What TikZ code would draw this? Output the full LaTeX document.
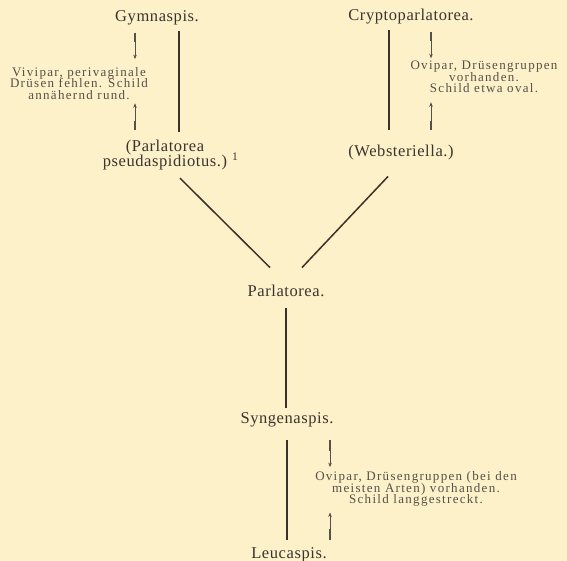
\documentclass[tikz,border=0pt]{standalone}
\usepackage{fontspec}
\setmainfont{Liberation Serif}
\usetikzlibrary{arrows.meta}
\definecolor{paperCream}{HTML}{FCF1C8}
\definecolor{inkDark}{HTML}{3A322A}
\definecolor{inkName}{HTML}{3A342E}
\definecolor{inkNote}{HTML}{55504A}
\newcommand\taxonfont{\fontsize{16.5}{15}\selectfont\lineskiplimit=-20pt%
  \addfontfeatures{LetterSpace=3.5}}
\newcommand\notefont{\fontsize{13}{11.6}\selectfont\lineskiplimit=-20pt%
  \addfontfeatures{LetterSpace=10}}
\tikzset{
  taxon/.style={font=\taxonfont, text=inkName, inner sep=0pt, align=center},
  note/.style={font=\notefont, text=inkNote, inner sep=0pt, align=center},
  stem/.style={line width=1.8pt, draw=inkDark},
  branch/.style={line width=1.5pt, draw=inkDark},
  pointer/.style={-{Stealth[length=4.5pt,width=3.5pt]}, line width=0.5pt,
    draw=inkNote},
  tickmark/.style={line width=2pt, draw=inkNote}
}

\begin{document}
\begin{tikzpicture}[x=1pt, y=-1pt]
  \fill[paperCream] (0,0) rectangle (567,561);
  \useasboundingbox (0,0) rectangle (567,561);

  % taxa
  \node[taxon] (gym) at (157,17.8) {Gymnaspis.};
  \node[taxon] (cry) at (411,16.2) {Cryptoparlatorea.};
  \node[taxon] (pp) at (165,155.3)
    {(Parlatorea\\pseudaspidiotus.)\rlap{\hspace{5pt}\textsuperscript{1}}};
  \node[taxon] (web) at (401,152.4) {(Websteriella.)};
  \node[taxon] (parl) at (286,291) {Parlatorea.};
  \node[taxon] (syn) at (287,419.5) {Syngenaspis.};
  \node[taxon] (leu) at (289,554.5) {Leucaspis.};

  % characters
  \node[note] (viv) at (79,83.5)
    {Vivipar, perivaginale\\Drüsen fehlen. Schild\\annähernd rund.};
  \node[note] (ov) at (484,77)
    {Ovipar, Drüsengruppen\\vorhanden.\\Schild etwa oval.};
  \node[note] (lang) at (416,489)
    {Ovipar, Drüsengruppen (bei den\\meisten Arten) vorhanden.\\Schild langgestreckt.};

  % stems and branches
  \coordinate (gymx) at (179,0);
  \coordinate (cryx) at (389,0);
  \draw[stem, shorten <=5.7pt, shorten >=8.2pt] (gymx |- gym.south) -- (gymx |- pp.north);
  \draw[stem, shorten <=6.4pt, shorten >=15.2pt] (cryx |- cry.south) -- (cryx |- web.north);
  \draw[branch] ([shift={(15,7.7)}]pp.south) -- ([shift={(-16,-17.4)}]parl.north);
  \draw[branch] ([shift={(-13,16.4)}]web.south) -- ([shift={(16,-17.4)}]parl.north);
  \draw[stem, shorten <=11.3pt, shorten >=4pt] (parl.south) -- (parl.south |- syn.north);
  \draw[stem, shorten <=13.1pt, shorten >=7pt] (syn.south) -- (syn.south |- leu.north);

  % pointers to the characters
  \coordinate (vivup) at (135,33);
  \coordinate (vivdown) at (135,130);
  \coordinate (ovup) at (431,32);
  \coordinate (ovdown) at (431,130);
  \coordinate (langup) at (330,440);
  \coordinate (langdown) at (330,540);
  \draw[tickmark] (vivup) -- ++(0,9);
  \draw[tickmark] (vivdown) -- ++(0,-9);
  \draw[tickmark] (ovup) -- ++(0,9);
  \draw[tickmark] (ovdown) -- ++(0,-9);
  \draw[tickmark] (langup) -- ++(0,11);
  \draw[tickmark] (langdown) -- ++(0,-11);
  \draw[pointer, shorten >=8pt] (vivup) -- (vivup |- viv.north);
  \draw[pointer, shorten >=3.4pt] (vivdown) -- (vivdown |- viv.south);
  \draw[pointer, shorten >=2.5pt] (ovup) -- (ovup |- ov.north);
  \draw[pointer, shorten >=9.1pt] (ovdown) -- (ovdown |- ov.south);
  \draw[pointer, shorten >=4.2pt] (langup) -- (langup |- lang.north);
  \draw[pointer, shorten >=5.8pt] (langdown) -- (langdown |- lang.south);
\end{tikzpicture}
\end{document}
